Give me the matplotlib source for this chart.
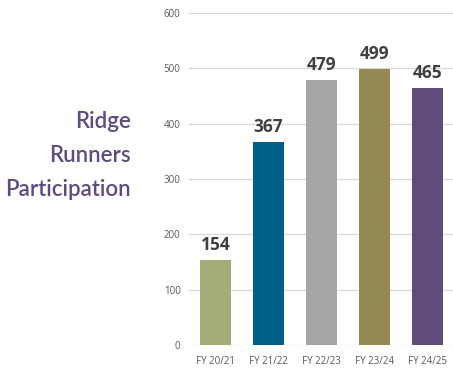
import matplotlib.pyplot as plt

years = ["FY 20/21", "FY 21/22", "FY 22/23", "FY 23/24", "FY 24/25"]
participants = [154, 367, 479, 499, 465]
bar_colors = ["#a5ac79", "#005f87", "#a6a6a6", "#948a54", "#604c7a"]

fig = plt.figure(figsize=(4.53, 3.68), dpi=100)
ax = fig.add_axes([0.417, 0.0625, 0.585, 0.9022])

bars = ax.bar(years, participants, width=0.6, color=bar_colors, zorder=3)
for b, v in zip(bars, participants):
    ax.text(b.get_x() + b.get_width() / 2, v + 10, str(v), ha="center", va="bottom",
            fontsize=12.5, fontweight="bold", color="#404040", family="Open Sans")

ax.set_ylim(0, 600)
ax.set_xlim(-0.5, 4.5)
ax.set_yticks(range(0, 601, 100))
ax.grid(axis="y", color="#d9d9d9", linewidth=0.9, zorder=0)
for s in ax.spines.values():
    s.set_visible(False)
ax.tick_params(length=0, labelsize=7, labelcolor="#595959", pad=6)
ax.tick_params(axis="x", pad=8)
for lbl in ax.get_xticklabels() + ax.get_yticklabels():
    lbl.set_family("Open Sans")

fig.text(0.288, 0.578, "Ridge\nRunners\nParticipation", ha="right", va="center",
         fontsize=16, fontweight="semibold", color="#5f4b7f", linespacing=1.75,
         family="Lato")

fig.savefig("out.png", dpi=100)
